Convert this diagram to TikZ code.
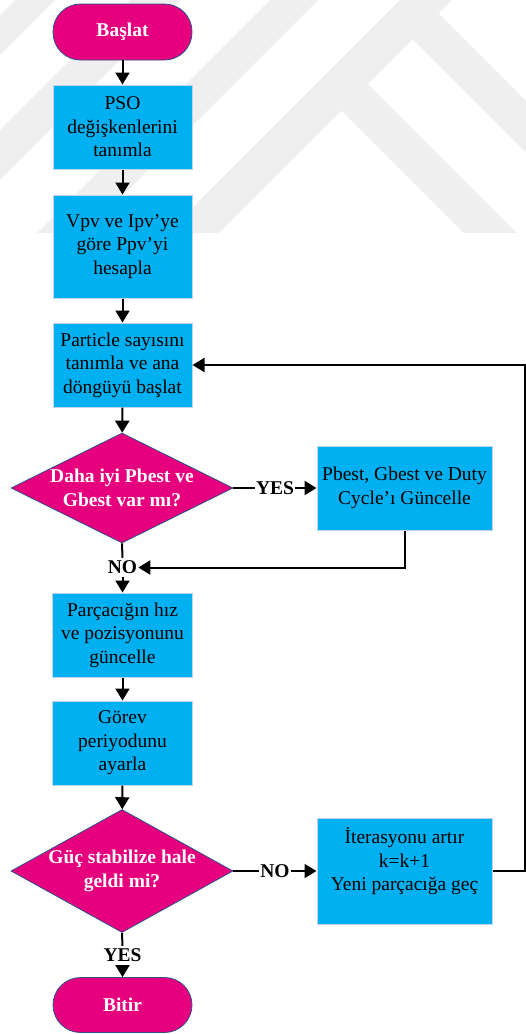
\documentclass[tikz,border=0pt]{standalone}
\usepackage{fontspec}
\setmainfont{Liberation Serif}
\usetikzlibrary{shapes.geometric,arrows.meta}
\definecolor{mag}{RGB}{230,0,126}
\definecolor{skyb}{RGB}{0,176,240}
\definecolor{navyedge}{RGB}{47,82,143}
\definecolor{boxedge}{RGB}{190,212,232}
\definecolor{wmark}{RGB}{239,239,239}
\begin{document}
\begin{tikzpicture}[x=1pt,y=-1pt,
  txt/.style={font=\fontsize{19.5}{23.5}\selectfont},
  btxt/.style={font=\fontsize{19.5}{24}\selectfont\bfseries},
  term/.style={rectangle, rounded corners=27.5pt, fill=mag, draw=navyedge,
    line width=0.8pt, minimum width=139pt, minimum height=56pt,
    btxt, text=white},
  proc/.style={rectangle, fill=skyb, draw=boxedge, line width=1pt,
    minimum width=139pt, minimum height=84pt, align=center, inner sep=2pt, txt},
  dia/.style={diamond, fill=mag, draw=navyedge, line width=0.8pt, inner sep=0pt},
  diatext/.style={align=center, text=white, btxt, inner sep=0pt},
  lbl/.style={btxt, inner xsep=1pt, inner ysep=3pt},
  conn/.style={line width=2pt},
  arr/.style={line width=2pt, -{Triangle[width=14pt,length=12pt]}}
]
\useasboundingbox (0,0) rectangle (526,1034);

% faint background bands
\fill[wmark] (0,15) -- (15,0) -- (55,0) -- (0,55) -- cycle;
\fill[wmark] (0,130) -- (130,0) -- (180,0) -- (0,180) -- cycle;
\fill[wmark] (270,0) -- (318,0) -- (85,233) -- (37,233) -- cycle;
\fill[wmark] (400,0) -- (452,0) -- (219,233) -- (167,233) -- cycle;
\fill[wmark] (341.5,110.5) -- (368,84) -- (517,233) -- (464,233) -- cycle;
\fill[wmark] (412.5,39.5) -- (438.5,13.5) -- (526,101) -- (526,153) -- cycle;

% flow nodes
\node[term] (start) at (122.5,32) {Başlat};
\node[proc] (init) at (122.5,127) {PSO\\değişkenlerini\\tanımla};
\node[proc, minimum height=103pt] (power) at (122.5,246.5) {Vpv ve Ipv’ye\\göre Ppv’yi\\hesapla};
\node[proc] (loop) at (122.5,365) {Particle sayısını\\tanımla ve ana\\döngüyü başlat};
\node[dia, minimum width=222pt, minimum height=110pt] (best) at (122,488) {};
\node[diatext] (besttxt) at (best) {Daha iyi Pbest ve\\Gbest var mı?};
\node[proc, minimum width=175pt] (upd) at (404.5,488) {Pbest, Gbest ve Duty\\Cycle’ı Güncelle};
\node[lbl] (no1) at (122.5,567.5) {NO};
\node[proc, minimum width=140pt] (vel) at (122.5,635) {Parçacığın hız\\ve pozisyonunu\\güncelle};
\node[proc, minimum width=140pt] (duty) at (122.5,743) {Görev\\periyodunu\\ayarla};
\node[dia, minimum width=222pt, minimum height=123pt] (stab) at (122,871) {};
\node[diatext] (stabtxt) at (stab) {Güç stabilize hale\\geldi mi?};
\node[proc, minimum width=175pt, minimum height=106pt] (iter) at (404.5,871)
  {İterasyonu artır\\k=k+1\\Yeni parçacığa geç\\\mbox{}};
\node[lbl] (no2) at (275,871) {NO};
\node[lbl] (yes1) at (275,488) {YES};
\node[lbl] (yes2) at (122.5,955.5) {YES};
\node[term, minimum height=55pt] (stop) at (122.5,1005) {Bitir};

\coordinate (back) at (525,871);

% connectors
\draw[arr] (start) -- (init);
\draw[arr] (init) -- (power);
\draw[arr] (power) -- (loop);
\draw[arr] (loop) -- (best);
\draw[conn] (best.east) -- (yes1.west);
\draw[arr] (yes1.east) -- (upd.west);
\draw[conn] (best.south) -- (no1.north);
\draw[arr] (upd.south) |- (no1.east);
\draw[arr] (no1.south) -- (vel.north);
\draw[arr] (vel) -- (duty);
\draw[arr] (duty) -- (stab);
\draw[conn] (stab.east) -- (no2.west);
\draw[arr] (no2.east) -- (iter.west);
\draw[arr] (iter.east) -- (back) |- (loop.east);
\draw[conn] (stab.south) -- (yes2.north);
\draw[arr] (yes2.south) -- (stop.north);
\end{tikzpicture}
\end{document}
